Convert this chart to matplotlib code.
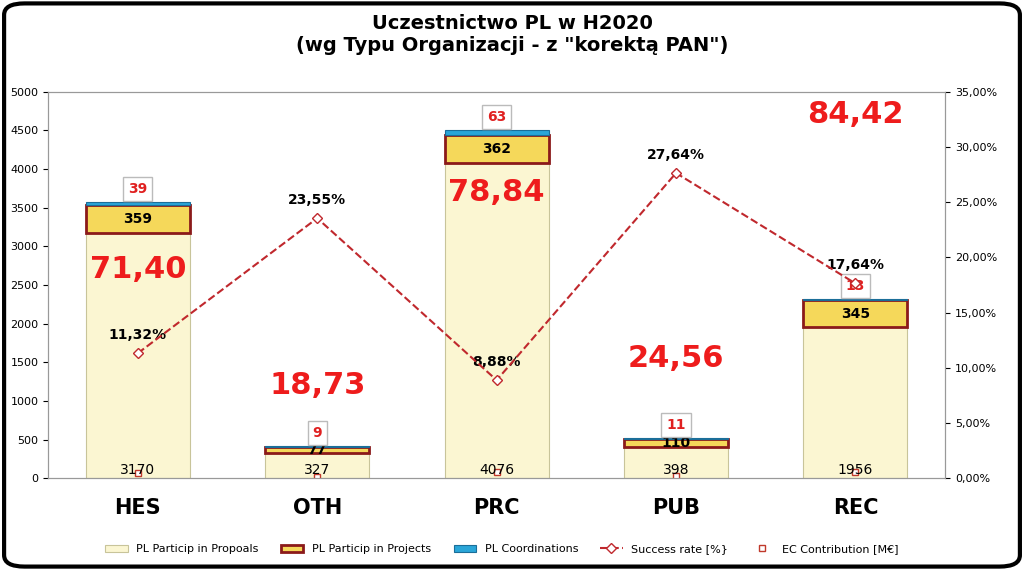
import matplotlib.pyplot as plt
from matplotlib.patches import FancyBboxPatch
import numpy as np

categories = ["HES", "OTH", "PRC", "PUB", "REC"]
proposals = [3170, 327, 4076, 398, 1956]
projects = [359, 77, 362, 110, 345]
coordinations = [39, 9, 63, 11, 13]
success_rate = [11.32, 23.55, 8.88, 27.64, 17.64]
ec_contribution = [71.40, 18.73, 78.84, 24.56, 84.42]
ec_label_y = [2700, 1200, 3700, 1550, 4700]

fig = plt.figure(figsize=(10.24, 5.7), dpi=100)
fig.patches.append(FancyBboxPatch((0.004, 0.006), 0.992, 0.988, boxstyle="round,pad=0,rounding_size=0.02",
                                  transform=fig.transFigure, fc="white", ec="black", lw=3, zorder=-10))
ax = fig.add_axes([0.047, 0.161, 0.876, 0.678])
ax2 = ax.twinx()
x = np.arange(len(categories))
w = 0.58

ax.bar(x, proposals, w, color="#fbf6d2", edgecolor="#c8c49a", lw=0.8, label="PL Particip in Propoals", zorder=2)
ax.bar(x, projects, w, bottom=proposals, color="#f5d85a", edgecolor="#8b1a1a", lw=2,
       label="PL Particip in Projects", zorder=3)
top = np.array(proposals) + np.array(projects)
ax.bar(x, coordinations, w, bottom=top, color="#2aa6d8", edgecolor="#1b6e99", lw=0.8,
       label="PL Coordinations", zorder=3)
ax.plot(x, ec_contribution, ls="none", marker="s", ms=4, mfc="white", mec="#c0392b",
        label="EC Contribution [M€]", zorder=5)

for i in range(len(x)):
    ax.text(x[i], 15, str(proposals[i]), ha="center", va="bottom", fontsize=10, zorder=6)
    ax.text(x[i], proposals[i] + projects[i] / 2, str(projects[i]), ha="center", va="center",
            fontsize=10, fontweight="bold", zorder=6)
    ax.text(x[i], top[i] + coordinations[i] + 170, str(coordinations[i]), ha="center", va="center",
            fontsize=10, fontweight="bold", color="#e02020", zorder=6,
            bbox=dict(fc="white", ec="#bbbbbb", boxstyle="square,pad=0.35"))
    ax.text(x[i], ec_label_y[i], f"{ec_contribution[i]:.2f}".replace(".", ","), ha="center", va="center",
            fontsize=22, fontweight="bold", color="#ee1c1c", zorder=6)

ax2.plot(x, success_rate, ls="--", color="#c0282d", lw=1.5, marker="D", ms=5, mfc="white",
         mec="#c0282d", label="Success rate [%}", zorder=5)
for i in range(len(x)):
    ax2.text(x[i], success_rate[i] + 1.0, f"{success_rate[i]:.2f}%".replace(".", ","), ha="center",
             va="bottom", fontsize=10, fontweight="bold")

ax.set_xlim(-0.5, 4.5)
ax.set_ylim(0, 5000)
ax.set_yticks(range(0, 5001, 500))
ax2.set_ylim(0, 35)
ax2.set_yticks(range(0, 36, 5))
ax2.set_yticklabels([f"{v:.2f}%".replace(".", ",") for v in range(0, 36, 5)])
ax.set_xticks(x)
ax.set_xticklabels(categories, fontsize=15, fontweight="bold")
ax.tick_params(axis="x", length=0, pad=14)
ax.tick_params(axis="y", labelsize=8)
ax2.tick_params(axis="y", labelsize=8)
for a in (ax, ax2):
    for s in a.spines.values():
        s.set_color("#999999")

fig.suptitle('Uczestnictwo PL w H2020\n(wg Typu Organizacji - z "korektą PAN")', y=0.975,
             fontsize=14, fontweight="bold")

h1, l1 = ax.get_legend_handles_labels()
h2, l2 = ax2.get_legend_handles_labels()
hs = h1[1:] + [h1[0]]
ls_ = l1[1:] + [l1[0]]
order = [hs[0], hs[1], hs[2], h2[0], hs[3]]
labs = [ls_[0], ls_[1], ls_[2], l2[0], ls_[3]]
fig.legend(order, labs, loc="lower center", ncol=5, frameon=False, fontsize=8,
           bbox_to_anchor=(0.49, 0.01))

fig.savefig("out.png", dpi=100)
